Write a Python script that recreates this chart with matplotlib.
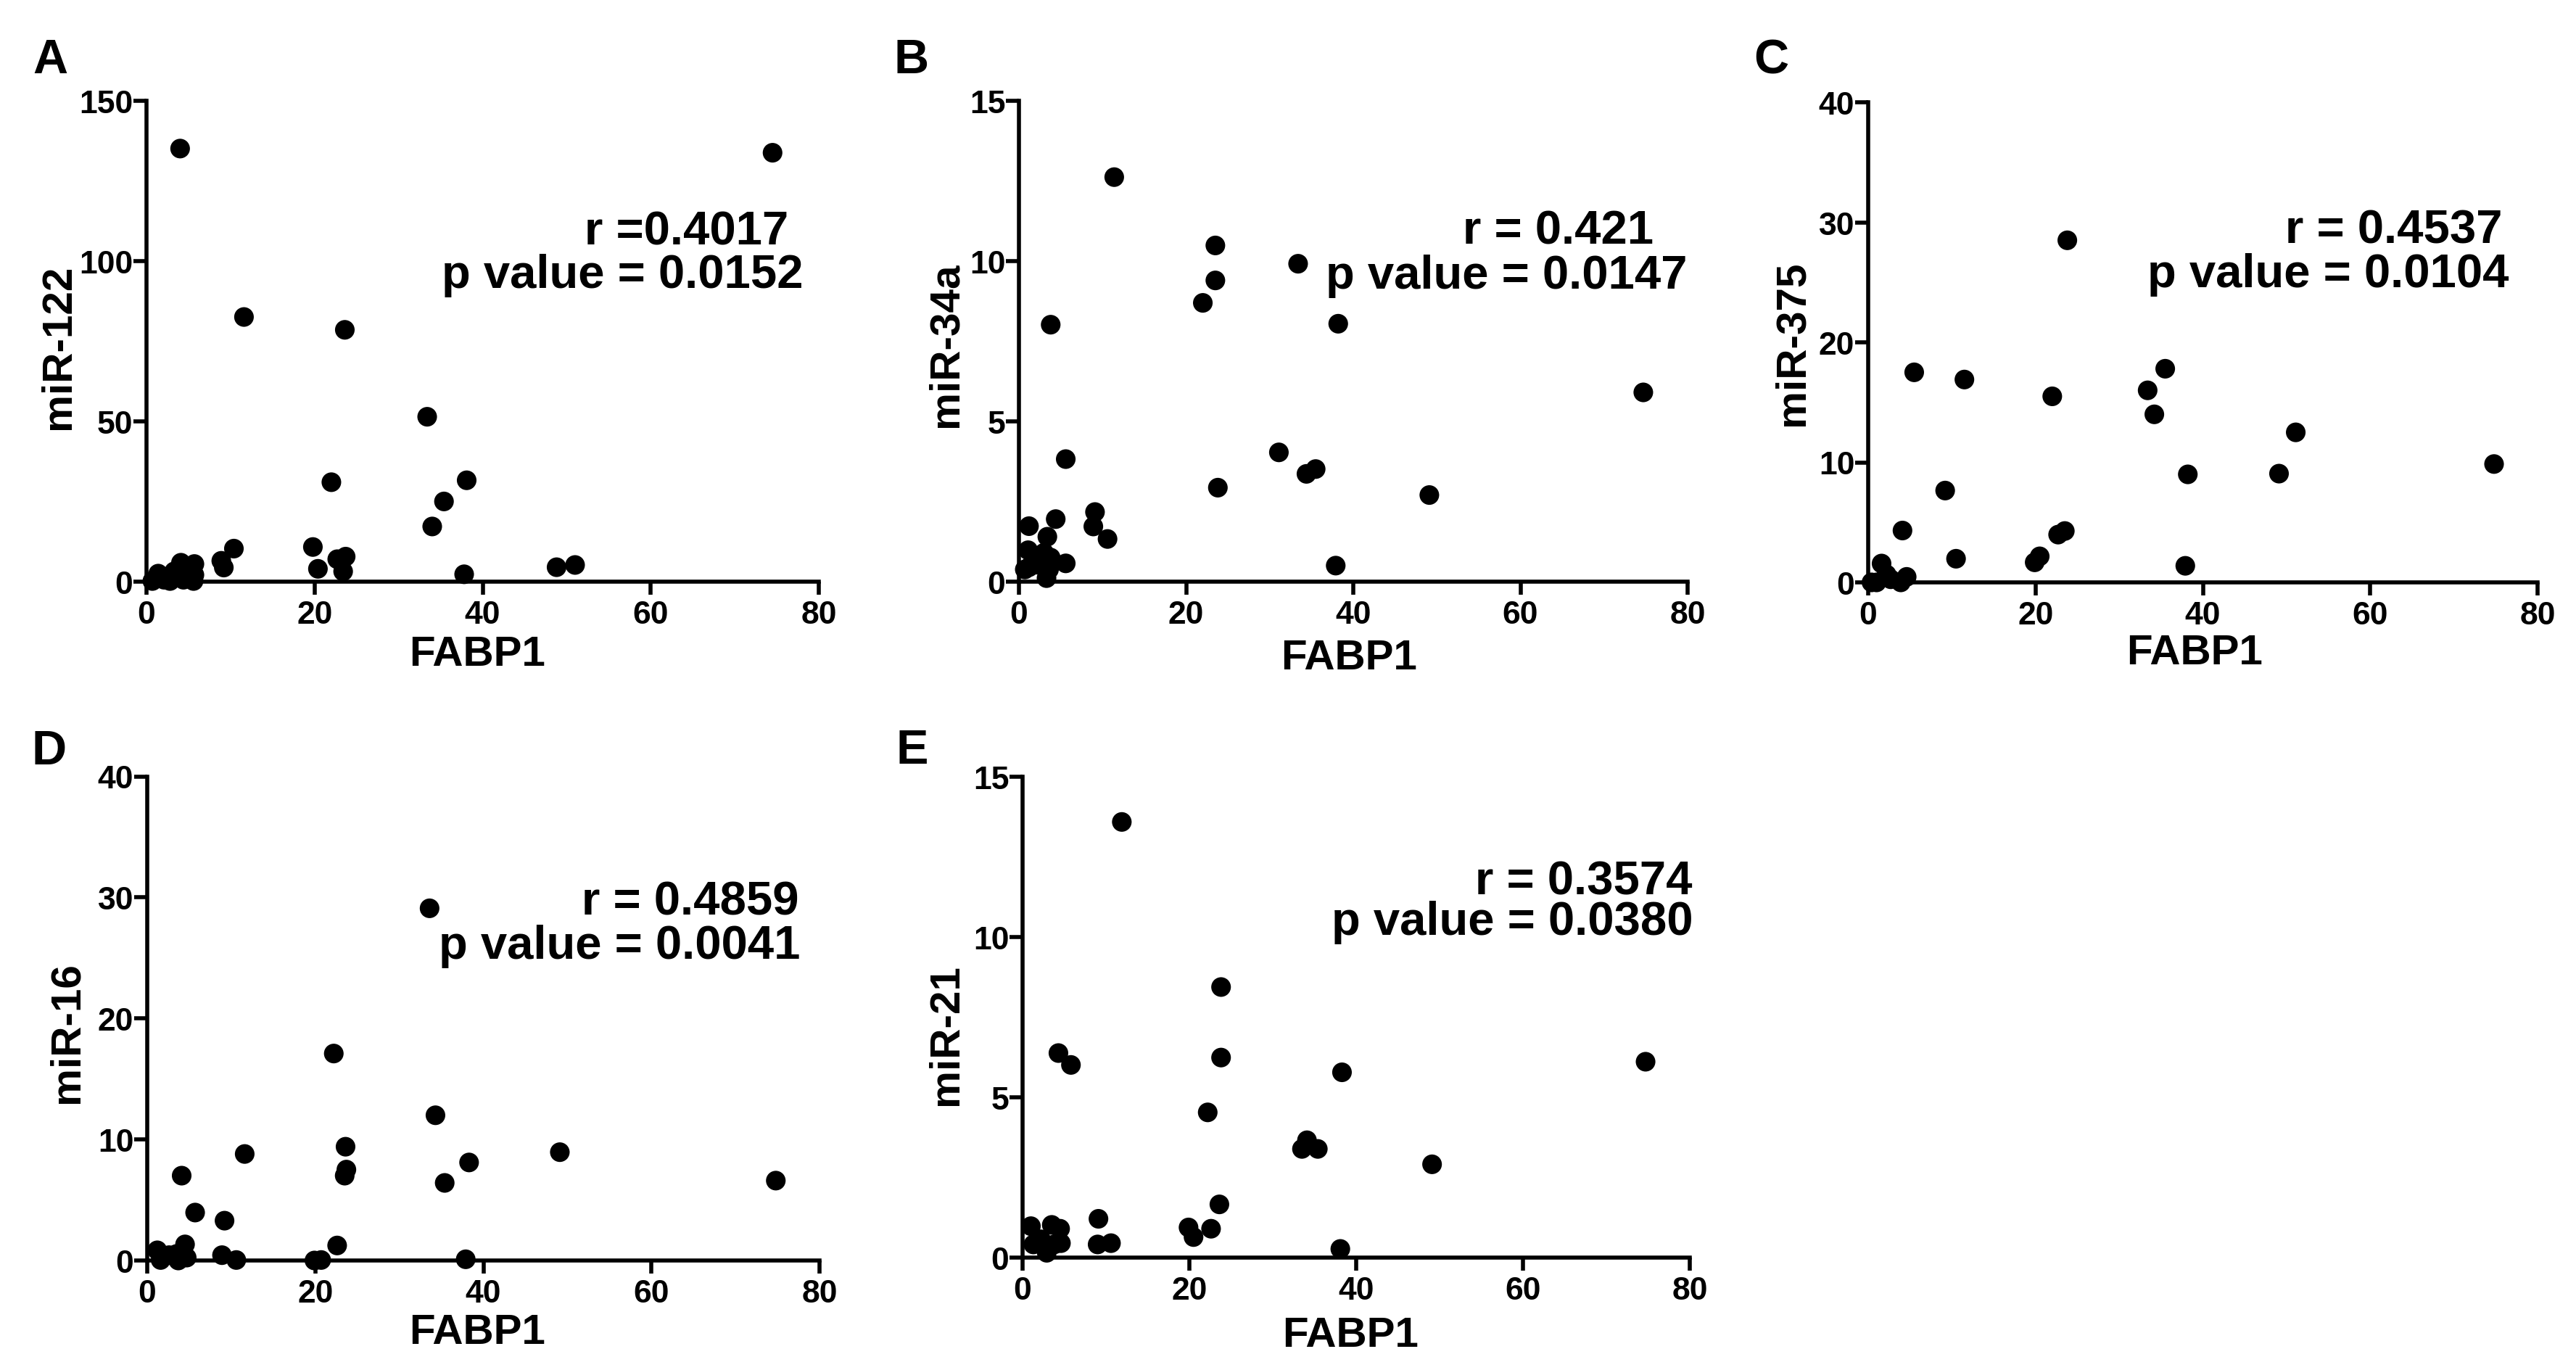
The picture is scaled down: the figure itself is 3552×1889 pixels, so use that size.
import matplotlib
matplotlib.use("Agg")
import matplotlib.pyplot as plt

plt.rcParams['font.family'] = ['Liberation Sans', 'DejaVu Sans']
plt.rcParams['font.weight'] = 'bold'

# ---------------- data ----------------
x_label = "FABP1"
x_ticks = [0, 20, 40, 60, 80]

a_name = "miR-122"
a_x = [4.0, 74.5, 11.6, 23.6, 33.4, 22.0, 38.1, 35.4, 34.0, 19.8, 20.4, 22.7, 23.7, 23.4,
       10.4, 8.9, 9.2, 37.8, 48.8, 51.0, 1.4, 0.7, 2.8, 4.1, 5.7, 5.6, 3.3, 5.0, 2.1, 4.4, 5.7]
a_y = [135.0, 133.7, 82.5, 78.5, 51.4, 31.0, 31.6, 25.0, 17.2, 10.8, 4.0, 7.0, 7.8, 3.2,
       10.3, 6.5, 4.4, 2.3, 4.5, 5.2, 2.5, 0.2, 0.2, 5.9, 5.5, 0.2, 3.2, 2.9, 0.6, 0.6, 2.1]
a_yticks = [0, 50, 100, 150]
a_r = "r =0.4017"
a_p = "p value = 0.0152"

b_name = "miR-34a"
b_x = [11.4, 23.5, 23.5, 22.0, 33.4, 3.8, 38.2, 74.7, 5.6, 23.8, 31.1, 34.4, 35.5, 49.1, 37.9,
       1.2, 4.4, 9.1, 8.9, 10.6, 3.4, 5.6, 1.1, 3.3, 3.0, 1.2, 2.1, 3.6, 3.8, 0.7]
b_y = [12.61, 10.48, 9.39, 8.69, 9.91, 8.01, 8.04, 5.90, 3.82, 2.93, 4.03, 3.36, 3.51, 2.70, 0.50,
       1.73, 1.95, 2.17, 1.72, 1.33, 1.40, 0.57, 0.98, 0.11, 0.90, 0.45, 0.53, 0.38, 0.75, 0.38]
b_yticks = [0, 5, 10, 15]
b_r = "r = 0.421"
b_p = "p value = 0.0147"

c_name = "miR-375"
c_x = [23.8, 5.5, 11.5, 22.0, 33.4, 35.5, 34.2, 51.1, 38.2, 49.1, 74.8, 37.9, 9.2, 4.1, 10.5,
       19.9, 20.5, 22.7, 23.5, 1.6, 1.0, 2.7, 3.9, 4.6, 2.2, 0.4]
c_y = [28.5, 17.5, 16.9, 15.5, 16.0, 17.8, 14.0, 12.5, 9.0, 9.06, 9.86, 1.38, 7.65, 4.32, 1.97,
       1.67, 2.17, 3.98, 4.28, 1.57, 0.0, 0.26, 0.0, 0.46, 0.66, 0.0]
c_yticks = [0, 10, 20, 30, 40]
c_r = "r = 0.4537"
c_p = "p value = 0.0104"

d_name = "miR-16"
d_x = [33.6, 22.2, 34.3, 49.1, 38.3, 74.8, 37.9, 11.6, 4.1, 5.7, 9.2, 22.6, 23.6, 23.7, 23.5,
       35.4, 4.5, 8.9, 10.6, 19.9, 20.7, 1.2, 1.6, 3.5, 3.7, 4.7, 2.6]
d_y = [29.1, 17.1, 12.0, 8.95, 8.1, 6.6, 0.1, 8.80, 7.01, 3.96, 3.29, 1.24, 9.40, 7.51, 7.01,
       6.41, 1.33, 0.44, 0.04, 0.0, 0.04, 0.84, 0.04, 0.54, 0.0, 0.24, 0.44]
d_yticks = [0, 10, 20, 30, 40]
d_r = "r = 0.4859"
d_p = "p value = 0.0041"

e_name = "miR-21"
e_x = [11.9, 23.8, 23.8, 4.3, 5.8, 22.2, 38.3, 74.7, 49.1, 38.1, 34.1, 33.5, 35.4, 23.6, 22.6,
       19.9, 20.5, 9.1, 9.0, 10.6, 1.0, 3.5, 4.5, 1.3, 2.9, 4.6, 2.2, 3.8]
e_y = [13.59, 8.44, 6.24, 6.38, 6.01, 4.53, 5.78, 6.11, 2.91, 0.27, 3.66, 3.39, 3.39, 1.66, 0.90,
       0.94, 0.64, 1.21, 0.41, 0.45, 0.98, 1.02, 0.90, 0.41, 0.15, 0.45, 0.57, 0.41]
e_yticks = [0, 5, 10, 15]
e_r = "r = 0.3574"
e_p = "p value = 0.0380"

# ---------------- layout ----------------
W, H = 3552, 1890
fig = plt.figure(figsize=(W / 100, H / 100), dpi=100)
fig.patch.set_facecolor("white")


def px_axes(left, right, bottom, top):
    return [left / W, (H - bottom) / H, (right - left) / W, (bottom - top) / H]


panels = [
    dict(letter="A", pos=px_axes(202, 1129, 803, 139.5), x=a_x, y=a_y, name=a_name, yt=a_yticks,
         r=a_r, p=a_p, rxy=(0.955, 0.702), pxy=(0.977, 0.612), ylc=(-0.1305, 0.49), xlc=(0.492, -0.151),
         lpos=(69, 84)),
    dict(letter="B", pos=px_axes(1405, 2327, 803, 139.5), x=b_x, y=b_y, name=b_name, yt=b_yticks,
         r=b_r, p=b_p, rxy=(0.949, 0.703), pxy=(1.0, 0.610), ylc=(-0.1095, 0.494), xlc=(0.494, -0.159),
         lpos=(1257, 84)),
    dict(letter="C", pos=px_axes(2576, 3499, 804, 142), x=c_x, y=c_y, name=c_name, yt=c_yticks,
         r=c_r, p=c_p, rxy=(0.947, 0.708), pxy=(0.957, 0.616), ylc=(-0.1127, 0.50), xlc=(0.488, -0.147),
         lpos=(2442, 84)),
    dict(letter="D", pos=px_axes(203, 1130, 1739, 1071.5), x=d_x, y=d_y, name=d_name, yt=d_yticks,
         r=d_r, p=d_p, rxy=(0.969, 0.716), pxy=(0.971, 0.625), ylc=(-0.1197, 0.473), xlc=(0.491, -0.149),
         lpos=(68, 1037)),
    dict(letter="E", pos=px_axes(1410, 2330, 1735, 1072), x=e_x, y=e_y, name=e_name, yt=e_yticks,
         r=e_r, p=e_p, rxy=(1.004, 0.757), pxy=(1.005, 0.673), ylc=(-0.114, 0.465), xlc=(0.491, -0.161),
         lpos=(1258, 1036)),
]

spine_lw = 4.0
for pnl in panels:
    ax = fig.add_axes(pnl["pos"])
    ax.scatter(pnl["x"], pnl["y"], s=380, color="black", edgecolors="none", clip_on=False, zorder=3)
    ax.set_xlim(x_ticks[0], x_ticks[-1])
    ax.set_ylim(pnl["yt"][0], pnl["yt"][-1])
    ax.set_xticks(x_ticks)
    ax.set_yticks(pnl["yt"])
    for s in ("top", "right"):
        ax.spines[s].set_visible(False)
    for s in ("left", "bottom"):
        ax.spines[s].set_linewidth(spine_lw)
        ax.spines[s].set_capstyle("projecting")
    ax.tick_params(axis="both", which="major", direction="out", length=13, width=spine_lw,
                   labelsize=32, color="black")
    ax.tick_params(axis="x", pad=5)
    ax.tick_params(axis="y", pad=0.5)
    for lab in ax.get_xticklabels() + ax.get_yticklabels():
        lab.set_fontweight("bold")
    ax.set_xlabel(x_label, fontsize=42, fontweight="bold", va="center")
    ax.xaxis.set_label_coords(*pnl["xlc"])
    ax.set_ylabel(pnl["name"], fontsize=42, fontweight="bold", va="center")
    ax.yaxis.set_label_coords(*pnl["ylc"])
    ax.text(pnl["rxy"][0], pnl["rxy"][1], pnl["r"], transform=ax.transAxes, ha="right",
            va="baseline", fontsize=47, fontweight="bold")
    ax.text(pnl["pxy"][0], pnl["pxy"][1], pnl["p"], transform=ax.transAxes, ha="right",
            va="baseline", fontsize=47, fontweight="bold")
    fig.text(pnl["lpos"][0] / W, 1 - pnl["lpos"][1] / H, pnl["letter"], ha="center", va="center",
             fontsize=48, fontweight="bold")

fig.savefig("out.png", dpi=100, facecolor="white")
